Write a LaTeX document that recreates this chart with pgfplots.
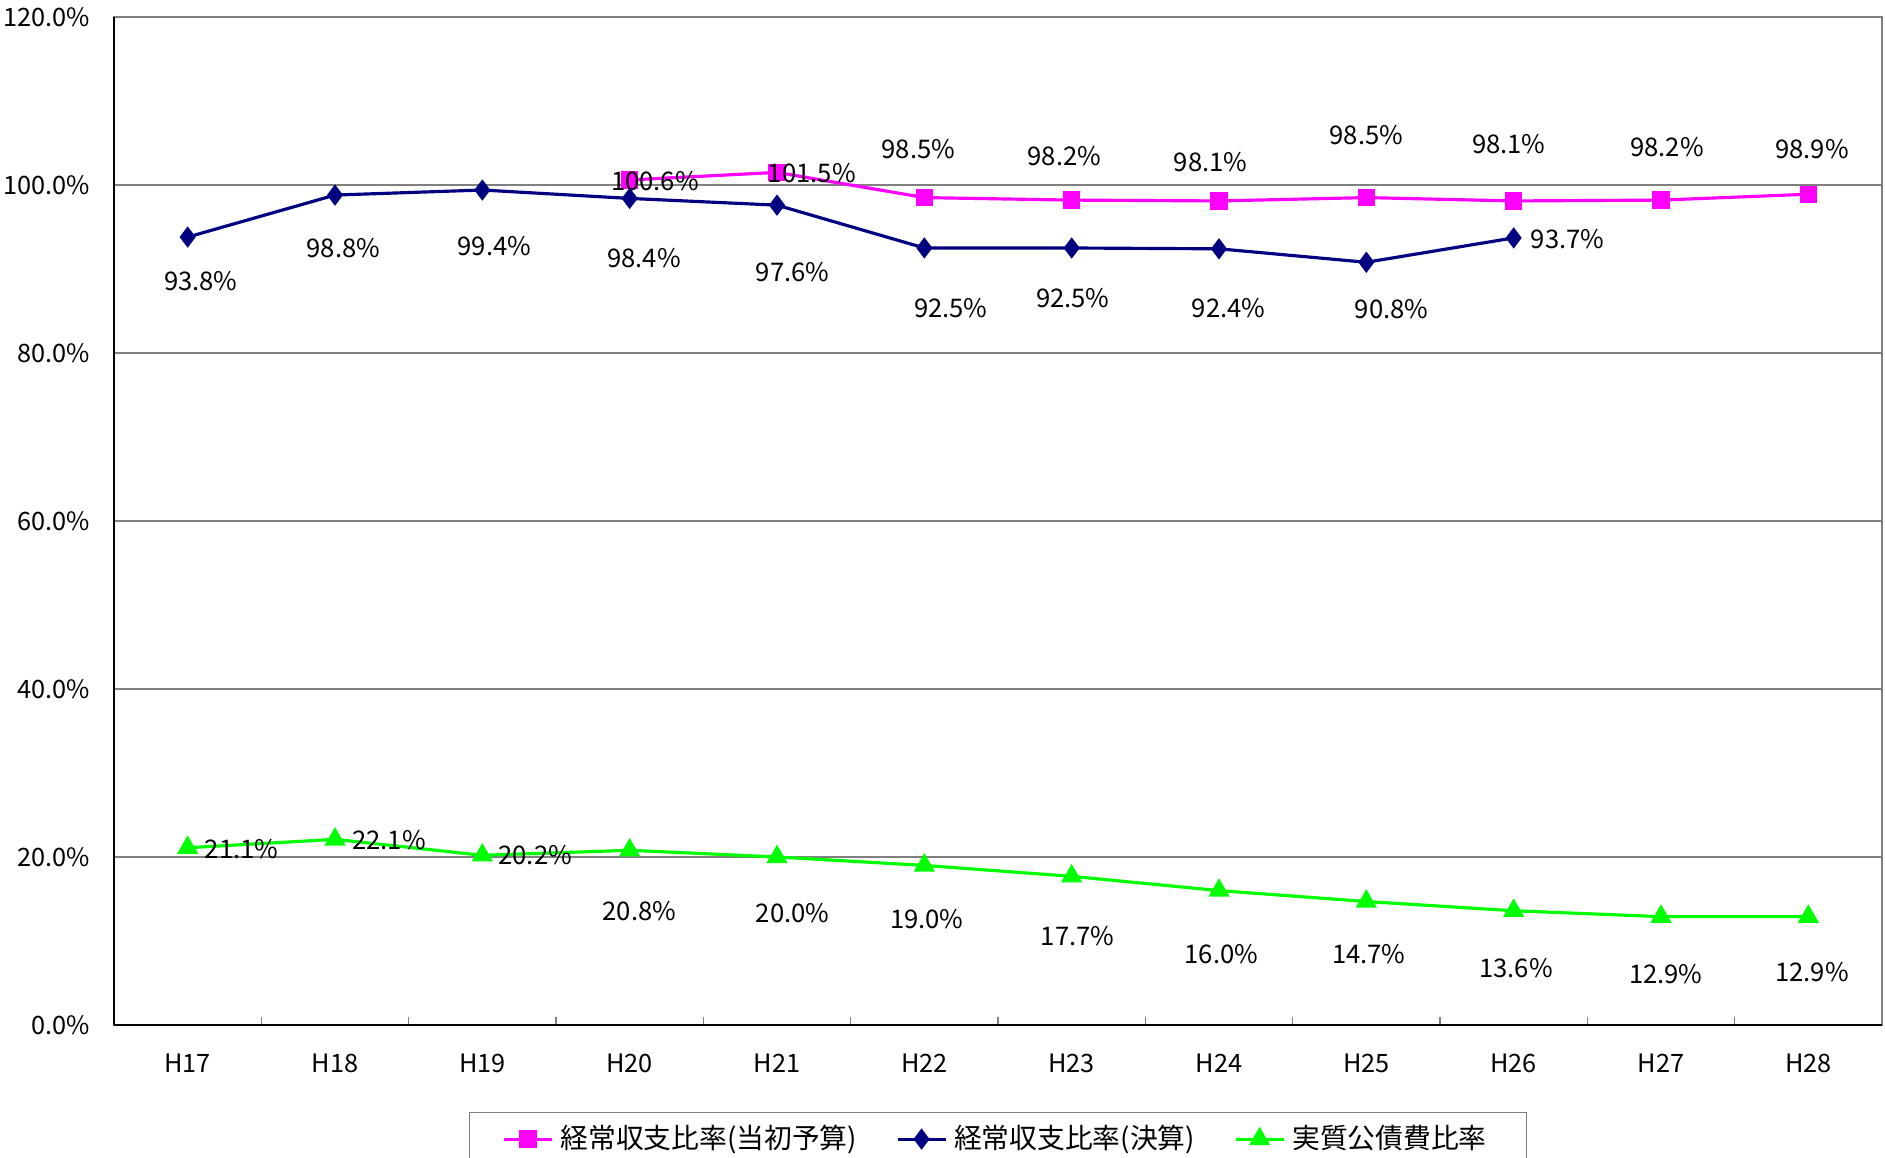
\documentclass[border=0pt]{standalone}
\usepackage{pgfplots}
\pgfplotsset{compat=1.18}
\usepackage{pgfplotstable}
\usepackage{fontspec}
\setmainfont{Noto Sans CJK JP}

\definecolor{cmag}{RGB}{255,0,255}
\definecolor{cnavy}{RGB}{0,0,128}
\definecolor{cgreen}{RGB}{0,255,0}

% x = year index (0 = H17), dx/dy = label offset (0.12 mm units)
\pgfplotstableread{
x y dx dy
3 100.6 21 -1
4 101.5 29 -1
5 98.5 -5 40
6 98.2 -6 37
7 98.1 -7 32
8 98.5 0 52
9 98.1 -4 47
10 98.2 5 44
11 98.9 3 38
}\budget

\pgfplotstableread{
x y dx dy
0 93.8 11 -37
1 98.8 7 -44
2 99.4 10 -47
3 98.4 12 -50
4 97.6 13 -56
5 92.5 22 -50
6 92.5 1 -42
7 92.4 8 -49
8 90.8 21 -39
9 93.7 45 -1
}\settled

\pgfplotstableread{
x y dx dy
0 21.1 45 -1
1 22.1 45 -1
2 20.2 44 0
3 20.8 8 -51
4 20.0 13 -47
5 19.0 2 -45
6 17.7 5 -50
7 16.0 2 -53
8 14.7 2 -44
9 13.6 2 -48
10 12.9 4 -48
11 12.9 3 -46
}\debt

\pgfplotsset{
  smag/.style={cmag, line width=0.9pt, mark=square*, mark size=2pt,
    mark options={solid, fill=cmag}},
  snavy/.style={cnavy, line width=0.9pt, mark=diamond*, mark size=2.3pt,
    mark options={solid, fill=cnavy}},
  sgreen/.style={cgreen, line width=0.9pt, mark=triangle*, mark size=2.6pt,
    mark options={solid, fill=cgreen}},
}

\begin{document}
\begin{tikzpicture}
\begin{axis}[
    at={(11.4mm,13.3mm)}, anchor=south west,
    scale only axis,
    width=176.8mm, height=100.8mm,
    xmin=-0.5, xmax=11.5,
    ymin=0, ymax=120,
    axis x line*=bottom, axis y line*=left,
    axis line style={black, line width=0.6pt},
    axis background/.style={draw=gray, line width=0.4pt},
    tick align=inside,
    xtick={0,...,11},
    xticklabels={H17,H18,H19,H20,H21,H22,H23,H24,H25,H26,H27,H28},
    minor xtick={0.5,1.5,...,10.5},
    major x tick style={draw=none},
    minor x tick style={gray, line width=0.4pt},
    minor tick length=0.8mm,
    major tick length=0.9mm,
    ytick={0,20,...,120},
    yticklabels={0.0\%,20.0\%,40.0\%,60.0\%,80.0\%,100.0\%,120.0\%},
    ymajorgrids,
    grid style={gray, line width=0.35pt},
    ticklabel style={font=\fontsize{7.2}{8}\selectfont},
    xticklabel style={anchor=center, yshift=-3.8mm},
    yticklabel style={anchor=east, inner sep=0pt, xshift=-2.3mm},
    clip=false,
    /pgf/number format/assume math mode=true,
    legend style={at={(0.5,0)}, anchor=north, yshift=-8.7mm,
        draw=gray, line width=0.4pt,
        font=\fontsize{7.9}{8}\selectfont,
        inner xsep=3.3mm, inner ysep=0.5mm},
    legend columns=3,
    /tikz/every even column/.append style={column sep=3.2mm},
    legend image code/.code={\draw[mark repeat=2,mark phase=2]
        plot coordinates {(0mm,0mm) (2.4mm,0mm) (4.8mm,0mm)};},
    point meta=explicit,
    nodes near coords={\pgfmathprintnumber[fixed,fixed zerofill,precision=1]{\pgfplotspointmeta}\%},
    every node near coord/.append style={anchor=center, inner sep=0pt,
        font=\fontsize{7.3}{8}\selectfont, text=black},
]
\addplot[smag, forget plot,
    visualization depends on={\thisrow{dx}*0.12 \as \dx},
    visualization depends on={\thisrow{dy}*0.12 \as \dy},
    every node near coord/.append style={xshift=\dx mm, yshift=\dy mm}]
    table[x=x, y=y, meta=y] {\budget};
\addplot[snavy, forget plot,
    visualization depends on={\thisrow{dx}*0.12 \as \dx},
    visualization depends on={\thisrow{dy}*0.12 \as \dy},
    every node near coord/.append style={xshift=\dx mm, yshift=\dy mm}]
    table[x=x, y=y, meta=y] {\settled};
\addplot[sgreen, forget plot,
    visualization depends on={\thisrow{dx}*0.12 \as \dx},
    visualization depends on={\thisrow{dy}*0.12 \as \dy},
    every node near coord/.append style={xshift=\dx mm, yshift=\dy mm}]
    table[x=x, y=y, meta=y] {\debt};

\addlegendimage{smag}
\addlegendentry{経常収支比率(当初予算)}
\addlegendimage{snavy}
\addlegendentry{経常収支比率(決算)}
\addlegendimage{sgreen}
\addlegendentry{実質公債費比率}
\end{axis}
\pgfresetboundingbox
\useasboundingbox (0,0) rectangle (188.5mm,115.8mm);
\end{tikzpicture}
\end{document}
